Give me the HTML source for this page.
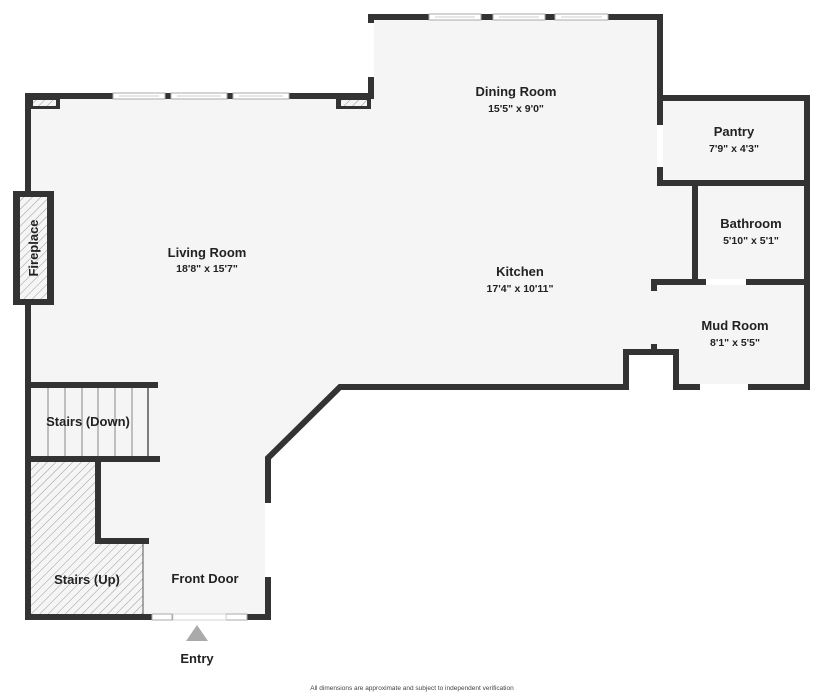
<!DOCTYPE html>
<html><head><meta charset="utf-8"><style>
html,body{margin:0;padding:0;background:#fff;}
svg{display:block;}
text{font-family:"Liberation Sans",sans-serif;font-weight:bold;fill:#222;text-anchor:middle;}
.n{font-size:13px;}
.d{font-size:10.5px;}
</style></head><body>
<svg width="825" height="695" viewBox="0 0 825 695" xmlns="http://www.w3.org/2000/svg">
<defs>
<pattern id="h" width="6" height="6" patternUnits="userSpaceOnUse" patternTransform="rotate(45)">
<rect width="6" height="6" fill="#f5f5f5"/><line x1="0" y1="0" x2="0" y2="6" stroke="#999" stroke-width="1"/>
</pattern>
</defs>
<!-- floor -->
<polygon fill="#f5f5f5" points="28,96 371,96 371,17 660,17 660,98 807,98 807,387 676,387 676,352 626,352 626,387 340,387 268,458 268,617 28,617"/>
<!-- stairs up hatch -->
<polygon fill="url(#h)" points="31,462 95,462 95,544 143,544 143,617 31,617"/>
<line x1="143" y1="544" x2="143" y2="617" stroke="#555" stroke-width="1"/>
<!-- stairs down lines -->
<g stroke="#888" stroke-width="1">
<line x1="48" y1="388" x2="48" y2="456"/><line x1="65" y1="388" x2="65" y2="456"/>
<line x1="82" y1="388" x2="82" y2="456"/><line x1="98" y1="388" x2="98" y2="456"/>
<line x1="115" y1="388" x2="115" y2="456"/><line x1="132" y1="388" x2="132" y2="456"/>
</g>
<line x1="148" y1="388" x2="148" y2="456" stroke="#555" stroke-width="1.5"/>
<!-- walls -->
<g fill="none" stroke="#333" stroke-width="6" stroke-linecap="square" stroke-linejoin="miter">
<polyline points="28,617 28,96 371,96 371,17 660,17 660,183"/>
<polyline points="660,98 807,98 807,387 676,387 676,352 626,352 626,387 340,387 268,458 268,617 28,617"/>
<line x1="660" y1="183" x2="807" y2="183"/>
<line x1="695" y1="183" x2="695" y2="282"/>
<line x1="654" y1="282" x2="807" y2="282"/>
<line x1="654" y1="282" x2="654" y2="288"/>
<line x1="654" y1="347" x2="654" y2="352"/>
<line x1="28" y1="385" x2="155" y2="385"/>
<line x1="28" y1="459" x2="157" y2="459"/>
<polyline points="98,459 98,541 146,541"/>
</g>
<!-- corner hatched boxes -->
<rect x="28" y="96" width="32" height="13" fill="#333"/>
<rect x="33" y="100" width="23" height="6" fill="url(#h)"/>
<rect x="336" y="96" width="35" height="13" fill="#333"/>
<rect x="341" y="100" width="26" height="6" fill="url(#h)"/>
<!-- fireplace -->
<rect x="13" y="191" width="41" height="114" fill="#333"/>
<rect x="20" y="197" width="27" height="102" fill="url(#h)"/>
<text class="n" transform="translate(38,248) rotate(-90)">Fireplace</text>
<!-- windows -->
<g fill="#fff" stroke="#aaa" stroke-width="1">
<rect x="113" y="93" width="52" height="6"/><rect x="171" y="93" width="56" height="6"/><rect x="233" y="93" width="56" height="6"/>
<rect x="429" y="14" width="52" height="6"/><rect x="493" y="14" width="52" height="6"/><rect x="555" y="14" width="53" height="6"/>
<rect x="152" y="614" width="20" height="6"/><rect x="226" y="614" width="21" height="6"/>
</g>
<g stroke="#bbb" stroke-width="0.8">
<line x1="119" y1="96" x2="159" y2="96"/><line x1="177" y1="96" x2="221" y2="96"/><line x1="239" y1="96" x2="283" y2="96"/>
<line x1="435" y1="17" x2="475" y2="17"/><line x1="499" y1="17" x2="539" y2="17"/><line x1="561" y1="17" x2="602" y2="17"/>
</g>
<!-- openings -->
<g fill="#fff">
<rect x="368" y="23" width="6" height="54"/>
<rect x="657" y="125" width="6" height="42"/>
<rect x="706" y="279" width="40" height="6"/>
<rect x="700" y="384" width="48" height="6"/>
<rect x="265" y="503" width="6" height="74"/>
<rect x="173" y="614" width="53" height="6" stroke="#ccc" stroke-width="0.8"/>
</g>
<polygon points="197,625 186,641 208,641" fill="#aaa"/>
<!-- labels -->
<text class="n" x="207" y="257">Living Room</text><text class="d" x="207" y="272">18'8" x 15'7"</text>
<text class="n" x="516" y="96">Dining Room</text><text class="d" x="516" y="112">15'5" x 9'0"</text>
<text class="n" x="734" y="136">Pantry</text><text class="d" x="734" y="152">7'9" x 4'3"</text>
<text class="n" x="751" y="228">Bathroom</text><text class="d" x="751" y="244">5'10" x 5'1"</text>
<text class="n" x="520" y="276">Kitchen</text><text class="d" x="520" y="292">17'4" x 10'11"</text>
<text class="n" x="735" y="330">Mud Room</text><text class="d" x="735" y="346">8'1" x 5'5"</text>
<text class="n" x="88" y="426">Stairs (Down)</text>
<text class="n" x="87" y="584">Stairs (Up)</text>
<text class="n" x="205" y="583">Front Door</text>
<text class="n" x="197" y="663">Entry</text>
<text x="412" y="690" style="font-size:6.5px;font-weight:normal;fill:#444">All dimensions are approximate and subject to independent verification</text>
</svg>
</body></html>
